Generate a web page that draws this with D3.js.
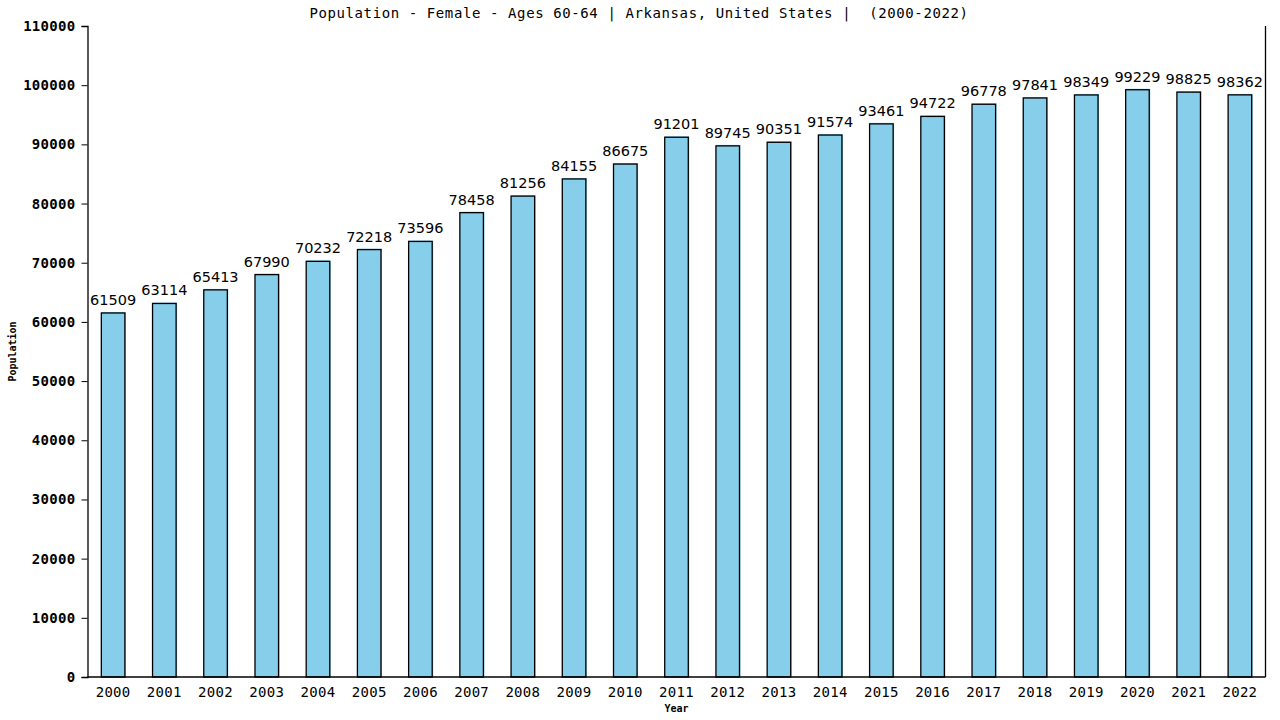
<!DOCTYPE html>
<html>
<head>
<meta charset="utf-8">
<script src="https://cdn.jsdelivr.net/npm/d3@7"></script>
<style>
  body { margin: 0; background: #fff; }
  svg text { font-family: "DejaVu Sans Mono", monospace; }
</style>
</head>
<body>
<div id="chart"></div>
<script>
// chart data
const years = ["2000","2001","2002","2003","2004","2005","2006","2007","2008","2009","2010","2011",
               "2012","2013","2014","2015","2016","2017","2018","2019","2020","2021","2022"];
const population = [61509, 63114, 65413, 67990, 70232, 72218, 73596, 78458, 81256, 84155, 86675, 91201,
                    89745, 90351, 91574, 93461, 94722, 96778, 97841, 98349, 99229, 98825, 98362];
const yTicks = [0, 10000, 20000, 30000, 40000, 50000, 60000, 70000, 80000, 90000, 100000, 110000];

const W = 1280, H = 720;
const margin = {top: 26, right: 14.5, bottom: 43, left: 87.5};
const width = W - margin.left - margin.right,
      height = H - margin.top - margin.bottom;

const svg = d3.select("#chart").append("svg")
    .attr("width", W)
    .attr("height", H);

const g = svg.append("g")
    .attr("transform", `translate(${margin.left},${margin.top})`);

const x = d3.scaleBand()
    .domain(years)
    .range([0, width])
    .paddingInner(0.54)
    .paddingOuter(0.27);

const y = d3.scaleLinear()
    .domain([0, 110000])
    .range([height, 0]);

// bars: fill slightly offset from the outline
g.selectAll("rect.fill")
    .data(population)
    .join("rect")
    .attr("class", "fill")
    .attr("x", (d, i) => x(years[i]))
    .attr("y", d => y(d) - 1)
    .attr("width", x.bandwidth() + 1)
    .attr("height", d => height - y(d) + 1)
    .attr("fill", "#87ceeb");

g.selectAll("rect.outline")
    .data(population)
    .join("rect")
    .attr("class", "outline")
    .attr("x", (d, i) => x(years[i]))
    .attr("y", d => y(d))
    .attr("width", x.bandwidth())
    .attr("height", d => height - y(d))
    .attr("fill", "none")
    .attr("stroke", "#000")
    .attr("stroke-width", 1.3);

// value labels
g.selectAll("text.val")
    .data(population)
    .join("text")
    .attr("class", "val")
    .attr("x", (d, i) => x(years[i]) + x.bandwidth() / 2)
    .attr("y", d => y(d) - 8)
    .attr("text-anchor", "middle")
    .style("font-family", "'DejaVu Sans', sans-serif")
    .style("font-size", "14.5px")
    .text(d => d);

// y axis
const yAxis = g.append("g")
    .call(d3.axisLeft(y).tickValues(yTicks).tickSize(6).tickPadding(6).tickFormat(d3.format("d")));
yAxis.select(".domain").attr("stroke-width", 1.3);
yAxis.selectAll("text")
    .style("font-size", "14px")
    .style("letter-spacing", "0.3px")
    .style("font-weight", "600")
    .attr("fill", "#000");

// x axis
const xAxis = g.append("g")
    .attr("transform", `translate(0,${height})`)
    .call(d3.axisBottom(x).tickSize(0).tickPadding(10));
xAxis.select(".domain").attr("d", `M0,0H${width}`).attr("stroke-width", 1.3);
xAxis.selectAll("text")
    .style("font-size", "14px")
    .style("letter-spacing", "0.3px")
    .attr("fill", "#000");

// right border
g.append("line")
    .attr("x1", width).attr("x2", width)
    .attr("y1", 0).attr("y2", height)
    .attr("stroke", "#000")
    .attr("stroke-width", 1.3);

// title
svg.append("text")
    .attr("x", 639)
    .attr("y", 18)
    .attr("text-anchor", "middle")
    .style("font-size", "14px")
    .style("letter-spacing", "0.6px")
    .style("white-space", "pre")
    .text("Population - Female - Ages 60-64 | Arkansas, United States |  (2000-2022)");

// axis titles
svg.append("text")
    .attr("x", margin.left + width / 2)
    .attr("y", 712)
    .attr("text-anchor", "middle")
    .style("font-size", "10px")
    .style("font-weight", "bold")
    .text("Year");

svg.append("text")
    .attr("transform", `translate(16,${margin.top + height / 2}) rotate(-90)`)
    .attr("text-anchor", "middle")
    .style("font-size", "10px")
    .style("font-weight", "bold")
    .text("Population");
</script>
</body>
</html>
